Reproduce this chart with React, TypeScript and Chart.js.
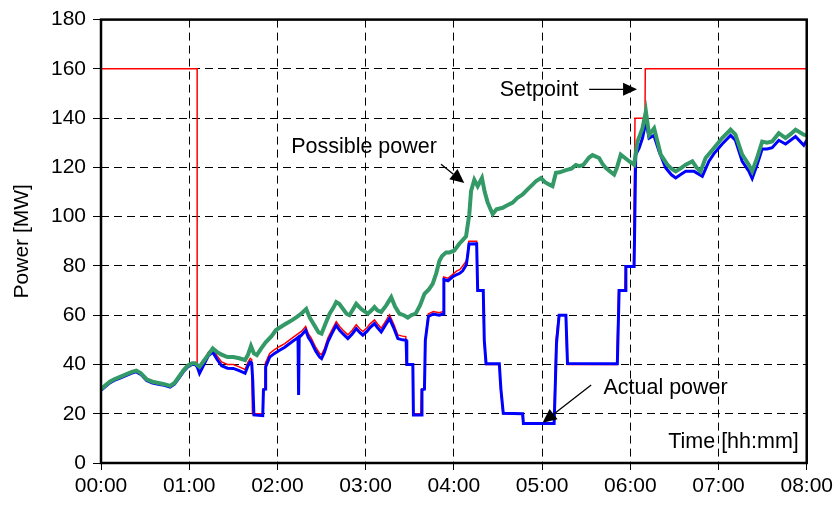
import React, { useEffect, useRef } from 'react';
import { Chart, registerables } from 'chart.js';

Chart.register(...registerables);

// X tick labels (minutes 0..480 every 60)
const xTickLabels = ['00:00', '01:00', '02:00', '03:00', '04:00', '05:00', '06:00', '07:00', '08:00'];

// Possible power [MW] (green)
const possibleTime = [
  0, 3, 6, 9, 13, 17, 21, 24, 27, 31, 35, 39, 43, 47, 50, 53, 56, 59, 62, 64, 67, 70, 73, 76, 79, 82, 86, 90, 94, 98,
  100, 102, 104, 106, 109, 112, 116, 119, 123, 126, 130, 133, 136, 139.6, 142, 145, 148, 150, 153, 155.5, 158, 160,
  162, 164.5, 167, 169, 171, 173.6, 177, 181.5, 184, 186, 188, 190.6, 194, 197.4, 200, 203, 206, 208.7, 211, 214,
  217, 220, 223, 225.6, 228, 230.2, 232, 234.7, 237, 240.3, 243.7, 246, 248.3, 250.5, 251.7, 253.9, 256.2, 259.1,
  261, 263, 266.4, 269, 273.2, 276, 280, 283, 286.8, 290, 293.5, 296, 299.2, 302, 305, 307.1, 309.4, 312, 316.2,
  320, 323, 325.2, 328, 332, 334.3, 338.8, 341, 343.3, 346, 349, 351, 353.5, 356, 359.2, 362.6, 364.9, 366.5, 368.3,
  370.6, 372.8, 376.2, 380.7, 385.2, 388, 390.9, 394, 397.7, 402.2, 405, 407.8, 411.2, 416.8, 422.5, 428.2, 431.5,
  436.1, 440.6, 442.9, 446.2, 449.7, 453, 456.5, 461, 465.6, 469, 472.4, 478, 480,
];
const possiblePower = [
  30, 31.5, 33, 34, 35, 36, 37, 37.5, 36.5, 34, 33, 32.5, 32, 31.3, 32.5, 35, 37.5, 39.5, 40.5, 40.5, 39, 41.5, 44,
  46.5, 45, 44, 43, 43, 42.5, 41.8, 44, 47.5, 44.5, 43.8, 46.5, 49, 51.5, 54, 55.5, 56.6, 58, 59.2, 60.5, 62.5, 59,
  56, 53, 52.5, 57, 60.6, 63, 65.3, 64.6, 62.6, 60.6, 60, 62, 64.6, 62.5, 60.6, 62, 63.3, 62, 61.3, 64, 67.3, 63.5,
  60.6, 60, 59, 60, 60.6, 64, 68.7, 70.5, 72.7, 77, 82.1, 84, 85.5, 85.5, 86.2, 89, 90.5, 92, 101, 110.4, 115, 112.4,
  115.7, 110, 105.7, 101, 103, 103.6, 104.5, 105.7, 107.5, 109, 111, 113, 114.5, 115.7, 114, 113, 112.4, 117.8, 118,
  118.9, 119.5, 121, 120.5, 121, 124, 125, 123.8, 121.5, 119.8, 118.5, 117.1, 120, 125.2, 124, 122.5, 121.1, 130.5,
  133, 135.9, 142.7, 133.2, 135.9, 125.2, 121.1, 119.5, 118.4, 119.5, 121.1, 122.5, 120, 118.4, 123.8, 127.8, 131.9,
  135.3, 133.3, 125.2, 121.1, 118.4, 123.8, 130.5, 130, 130.5, 133.9, 131.9, 133.5, 135.3, 133.3, 133,
];

// Actual power [MW] (blue)
const actualTime = [
  0, 3, 6, 9, 13, 17, 21, 24, 27, 31, 35, 39, 43, 47, 50, 53, 56, 59, 62, 64, 65.5, 67, 70, 73, 76, 79, 82, 86, 90,
  94, 98, 100, 101.5, 102.5, 103.2, 104, 110, 110.5, 111.8, 112, 114.7, 118, 121.5, 125, 128.3, 132.9, 134, 134.4,
  134.8, 136.3, 139.2, 141, 143, 146, 148.7, 150, 152, 154.3, 157, 160, 162.3, 164.5, 167.9, 171, 173.6, 176, 178.1,
  181, 183, 186, 188, 190.6, 193, 196.2, 199, 201.9, 205, 207.5, 208, 212.1, 212.5, 217.7, 218.3, 220, 220.6, 222.7,
  226, 230, 232.8, 233.2, 236, 239, 242, 244, 246, 248.5, 249.5, 250.3, 255.5, 256.2, 260, 260.7, 261.9, 270.9, 272,
  273.6, 286.8, 287.3, 308.2, 308.9, 309.8, 311.6, 316.2, 317.3, 351.2, 352.4, 356.5, 357, 362.6, 363.7, 366, 368.3,
  370.6, 372.8, 376, 379.6, 384.1, 388, 390.9, 394, 397.7, 403.4, 409, 413.5, 416.8, 422.5, 428.2, 431.5, 436.1,
  440.6, 442.9, 446.2, 449.7, 453, 456.5, 461, 465.6, 469, 472.4, 478, 480,
];
const actualPower = [
  29.5, 31, 32.5, 33.5, 34.5, 35.5, 36.5, 37, 36, 33.5, 32.5, 32, 31.5, 30.8, 32, 34.5, 37, 39, 40, 40, 39, 36.4, 40,
  43.5, 45, 42, 39.5, 38.5, 38.4, 37.5, 36.4, 39.5, 41, 40.5, 33.7, 19.5, 19.2, 29.7, 30, 39, 43, 44.5, 45.8, 47,
  48.5, 50.5, 51, 27.6, 51, 51.9, 53.9, 51, 49.2, 45.5, 43, 42.4, 45, 49.2, 52.5, 55.9, 53.9, 52.5, 50.5, 52.5, 54.6,
  53, 51.9, 53.5, 55, 56.6, 55, 53.2, 55.5, 58.6, 55, 50.5, 50, 49.8, 40, 40, 19.5, 19.5, 29.7, 30, 49.8, 59.5, 60.5,
  60, 60.5, 74.5, 74, 75.5, 76.5, 77, 78, 80.5, 84.8, 88.9, 89, 70, 70, 49.8, 40.3, 40.3, 30, 20.2, 20, 16, 16, 29.7,
  48.5, 60, 60, 40.4, 40.3, 70, 70, 79.8, 79.8, 125.2, 127.8, 131.9, 138.6, 131.9, 133, 126.5, 119.8, 117, 115.7,
  117, 118.4, 118.4, 116.4, 122.5, 125.5, 129.5, 133, 131, 122.5, 118.5, 115.5, 121, 127.5, 127.5, 128, 131, 129.5,
  131, 132.5, 129, 131,
];

// Setpoint [MW] (red)
const setpointTime = [
  0, 65.4, 65.4, 67, 70, 73, 76, 79, 82, 86, 90, 94, 98, 100, 101.5, 102.5, 103, 110, 110.3, 111.5, 111.8, 114.7,
  118, 121.5, 125, 128.3, 132.9, 136.3, 139.2, 141, 143, 146, 148.7, 150, 152, 154.3, 157, 160, 162.3, 164.5, 167.9,
  171, 173.6, 176, 178.1, 181, 183, 186, 188, 190.6, 193, 196.2, 199, 201.9, 205, 207.3, 207.6, 212, 212.3, 217.5,
  218, 220, 220.5, 222.5, 226, 230, 232.8, 233.1, 236, 239, 242, 244, 246, 248.5, 249.5, 250.2, 255.5, 256, 259.8,
  260.5, 261.7, 271, 271.8, 273.4, 286.5, 287, 308, 308.6, 309.5, 311.3, 316, 317, 350.8, 352, 356.3, 356.7, 362.2,
  363.2, 370, 370.2, 480,
];
const setpointPower = [
  160, 160, 40.5, 38, 41.5, 45, 46.5, 43.5, 41, 40, 40, 39, 38, 41, 42.5, 42, 20, 20, 30, 30, 40.5, 44.5, 46, 47.3,
  48.5, 50, 52, 53.4, 55.4, 52.5, 50.7, 47, 44.5, 44, 46.5, 50.7, 54, 57.4, 55.4, 54, 52, 54, 56.1, 54.5, 53.4, 55,
  56.5, 58.1, 56.5, 54.7, 57, 60.1, 56.5, 52, 51.5, 51.3, 40, 40, 20, 20, 30, 30, 50, 60.5, 61.5, 61, 61.5, 75.5, 75,
  76.5, 78, 78.5, 80, 82, 86, 90, 90, 70, 70, 50, 40, 40, 30, 20, 20, 16, 16, 30, 50, 60, 60, 40, 40, 70, 70, 80, 80,
  140, 140, 160, 160,
];

type Note = { text: string; tx: number; ty: number; align: CanvasTextAlign; arrow?: [number, number, number, number] };
const notes: Note[] = [
  { text: 'Possible power', tx: 178.9, ty: 128.1, align: 'center', arrow: [231.3, 121.3, 247.1, 113.7] },
  { text: 'Setpoint', tx: 298, ty: 151.5, align: 'center', arrow: [332, 151.7, 364.6, 151.7] },
  { text: 'Actual power', tx: 384, ty: 30.5, align: 'center', arrow: [333.4, 31.7, 300.3, 16.3] },
  { text: 'Time [hh:mm]', tx: 474.6, ty: 8.3, align: 'right' },
];

const FONT = '"Liberation Sans", Arial, sans-serif';

const pairs = (xs: number[], ys: number[]) => xs.map((x, i) => ({ x, y: ys[i] }));

const overlayPlugin = {
  id: 'overlay',
  afterDraw(chart: any) {
    const { ctx, chartArea: a, scales } = chart;
    const xs = scales.x;
    const ys = scales.y;
    ctx.save();
    ctx.strokeStyle = '#000';
    ctx.lineWidth = 2.5;
    ctx.setLineDash([]);
    ctx.strokeRect(a.left, a.top, a.right - a.left, a.bottom - a.top);

    ctx.fillStyle = '#000';
    ctx.font = `21px ${FONT}`;
    // Y axis title
    ctx.save();
    ctx.translate(22, (a.top + a.bottom) / 2);
    ctx.rotate(-Math.PI / 2);
    ctx.textAlign = 'center';
    ctx.textBaseline = 'middle';
    ctx.fillText('Power [MW]', 0, 0);
    ctx.restore();

    ctx.font = `21.5px ${FONT}`;
    ctx.textBaseline = 'middle';
    for (const n of notes) {
      ctx.textAlign = n.align;
      ctx.fillText(n.text, xs.getPixelForValue(n.tx), ys.getPixelForValue(n.ty));
      if (n.arrow) {
        const x1 = xs.getPixelForValue(n.arrow[0]);
        const y1 = ys.getPixelForValue(n.arrow[1]);
        const x2 = xs.getPixelForValue(n.arrow[2]);
        const y2 = ys.getPixelForValue(n.arrow[3]);
        const ang = Math.atan2(y2 - y1, x2 - x1);
        const len = 14;
        const hw = 6.5;
        const bx = x2 - Math.cos(ang) * len;
        const by = y2 - Math.sin(ang) * len;
        ctx.lineWidth = 1.3;
        ctx.beginPath();
        ctx.moveTo(x1, y1);
        ctx.lineTo(bx, by);
        ctx.stroke();
        ctx.beginPath();
        ctx.moveTo(x2, y2);
        ctx.lineTo(bx + Math.sin(ang) * hw, by - Math.cos(ang) * hw);
        ctx.lineTo(bx - Math.sin(ang) * hw, by + Math.cos(ang) * hw);
        ctx.closePath();
        ctx.fill();
      }
    }
    ctx.restore();
  },
};

export default function App() {
  const ref = useRef<HTMLCanvasElement | null>(null);
  useEffect(() => {
    if (!ref.current) return;
    const chart = new Chart(ref.current, {
      type: 'line',
      data: {
        datasets: [
          {
            label: 'Possible power',
            data: pairs(possibleTime, possiblePower),
            borderColor: '#339966',
            borderWidth: 4,
            pointRadius: 0,
            tension: 0,
          },
          {
            label: 'Actual power',
            data: pairs(actualTime, actualPower),
            borderColor: '#0000ff',
            borderWidth: 3,
            pointRadius: 0,
            tension: 0,
          },
          {
            label: 'Setpoint',
            data: pairs(setpointTime, setpointPower),
            borderColor: '#ff0000',
            borderWidth: 1.5,
            pointRadius: 0,
            tension: 0,
          },
        ],
      },
      options: {
        animation: false,
        responsive: false,
        devicePixelRatio: 1,
        layout: { padding: { top: 17, right: 29, left: 0, bottom: 0 } },
        plugins: { legend: { display: false }, tooltip: { enabled: false } },
        scales: {
          x: {
            type: 'linear',
            min: 0,
            max: 480,
            afterFit: (s: any) => { s.height = 45; },
            ticks: {
              stepSize: 60,
              autoSkip: false,
              maxRotation: 0,
              padding: 4,
              color: '#000',
              font: { family: FONT, size: 21 },
              callback: (v: any) => xTickLabels[Math.round(Number(v) / 60)] ?? '',
            },
            grid: { color: '#000', lineWidth: 1, tickLength: 7, tickColor: '#000', tickBorderDash: [] },
            border: { display: false, dash: [8, 5] },
          },
          y: {
            min: 0,
            max: 180,
            afterFit: (s: any) => { s.width = 101; },
            ticks: {
              stepSize: 20,
              padding: 7,
              color: '#000',
              font: { family: FONT, size: 21 },
            },
            grid: { color: '#000', lineWidth: 1, tickLength: 8, tickColor: '#000', tickBorderDash: [] },
            border: { display: false, dash: [8, 5] },
          },
        },
      },
      plugins: [overlayPlugin],
    });
    return () => chart.destroy();
  }, []);
  return (
    <div style={{ position: 'fixed', left: 0, top: 0, width: 837, height: 508, background: '#fff' }}>
      <canvas ref={ref} width={837} height={508} style={{ width: 837, height: 508, display: 'block' }} />
    </div>
  );
}
